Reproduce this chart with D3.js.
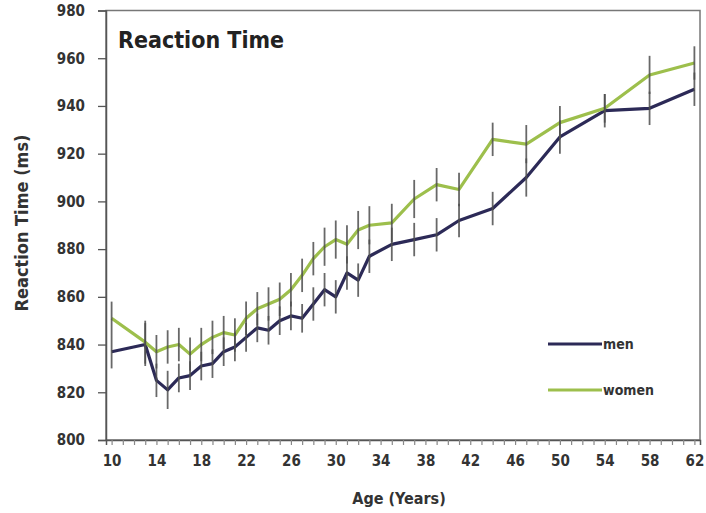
<!DOCTYPE html>
<html>
<head>
<meta charset="utf-8">
<script src="https://cdn.jsdelivr.net/npm/d3@7"></script>
<style>
  html, body { margin: 0; padding: 0; background: #fff; }
  svg { display: block; }
</style>
</head>
<body>
<div id="chart"></div>
<script>
// ages (years) of each measured group
const ages = [10, 13, 14, 15, 16, 17, 18, 19, 20, 21, 22, 23, 24, 25, 26, 27, 28, 29, 30, 31, 32, 33,
              35, 37, 39, 41, 44, 47, 50, 54, 58, 62];
// mean reaction time (ms)
const men = [837, 840, 825, 821, 826, 827, 831, 832, 837, 839, 843, 847, 846, 850, 852, 851, 857, 863, 860, 870, 867, 877,
             882, 884, 886, 892, 897, 910, 927, 938, 939, 947];
const women = [851, 841, 837, 839, 840, 836, 840, 843, 845, 844, 851, 855, 857, 859, 863, 869, 876, 881, 884, 882, 888, 890,
               891, 901, 907, 905, 926, 924, 933, 939, 953, 958];
// half length of error bars (ms)
const menErr = [7, 9, 7, 8, 6, 6, 6, 6, 6, 6, 6, 6, 6, 6, 6, 6, 7, 7, 7, 7, 7, 7,
                7, 7, 7, 7, 7, 8, 7, 7, 7, 7];
const womenErr = [7, 9, 7, 7, 7, 7, 7, 7, 7, 7, 7, 7, 7, 7, 7, 7, 7, 8, 8, 8, 8, 8,
                  8, 8, 7, 7, 7, 8, 7, 6, 8, 7];
const xTickValues = [10, 14, 18, 22, 26, 30, 34, 38, 42, 46, 50, 54, 58, 62];
const yTickValues = [800, 820, 840, 860, 880, 900, 920, 940, 960, 980];
const seriesNames = ['men', 'women'];

(function() {
  const width = 706, height = 513;
  const font = '"DejaVu Sans Condensed", "Liberation Sans Narrow", sans-serif';
  const colors = { men: '#2c2a57', women: '#9dbf4c' };

  const svg = d3.select('#chart').append('svg')
    .attr('width', width).attr('height', height);

  const x = d3.scaleLinear().domain([9.5, 62.5]).range([106, 700]);
  const y = d3.scaleLinear().domain([800, 980]).range([440, 10.5]);

  // frame
  svg.append('rect')
    .attr('x', x.range()[0]).attr('y', y.range()[1])
    .attr('width', x.range()[1] - x.range()[0])
    .attr('height', y.range()[0] - y.range()[1])
    .attr('fill', 'none').attr('stroke', '#777').attr('stroke-width', 1.5);

  // y axis
  const yAxis = svg.append('g')
    .attr('transform', `translate(${x.range()[0]},0)`)
    .call(d3.axisLeft(y).tickValues(yTickValues).tickSize(8).tickPadding(13));
  yAxis.select('.domain').attr('stroke', '#555').attr('stroke-width', 1.5);
  yAxis.selectAll('.tick line').attr('stroke', '#555').attr('stroke-width', 1.3);
  yAxis.selectAll('.tick text')
    .style('font', `bold 15px ${font}`).attr('fill', '#333');

  // x axis: minor tick every year, label every 4
  const xAxis = svg.append('g')
    .attr('transform', `translate(0,${y.range()[0]})`)
    .call(d3.axisBottom(x).tickValues(d3.range(10, 63)).tickSize(5).tickPadding(10)
      .tickFormat(d => xTickValues.includes(d) ? d : ''));
  xAxis.select('.domain').attr('stroke', '#555').attr('stroke-width', 1.5);
  xAxis.selectAll('.tick line').attr('stroke', '#888').attr('stroke-width', 1.2);
  xAxis.selectAll('.tick text')
    .style('font', `bold 15px ${font}`).attr('fill', '#333');

  // axis titles
  svg.append('text')
    .attr('x', 399).attr('y', 504)
    .attr('text-anchor', 'middle')
    .style('font', `bold 16px ${font}`).attr('fill', '#333')
    .text('Age (Years)');
  svg.append('text')
    .attr('transform', 'translate(28,223) rotate(-90)')
    .attr('text-anchor', 'middle')
    .style('font', `bold 18px ${font}`).attr('fill', '#333')
    .text('Reaction Time (ms)');

  // chart title
  svg.append('text')
    .attr('x', 118).attr('y', 48)
    .style('font', `bold 23px ${font}`).attr('fill', '#222')
    .text('Reaction Time');

  const series = [
    { name: 'men', values: men, err: menErr },
    { name: 'women', values: women, err: womenErr }
  ];

  const line = d3.line()
    .x((d, i) => x(ages[i]))
    .y(d => y(d));

  svg.append('g').selectAll('path')
    .data(series)
    .join('path')
    .attr('d', s => line(s.values))
    .attr('fill', 'none')
    .attr('stroke', s => colors[s.name])
    .attr('stroke-width', 3.2)
    .attr('stroke-linejoin', 'round');

  // error bars
  series.forEach(s => {
    svg.append('g').selectAll('line')
      .data(s.values)
      .join('line')
      .attr('x1', (d, i) => x(ages[i])).attr('x2', (d, i) => x(ages[i]))
      .attr('y1', (d, i) => y(d - s.err[i]))
      .attr('y2', (d, i) => y(d + s.err[i]))
      .attr('stroke', '#4d4d4d')
      .attr('stroke-opacity', 0.85)
      .attr('stroke-width', 1.8);
  });

  // legend
  const legend = svg.append('g').selectAll('g')
    .data(seriesNames)
    .join('g')
    .attr('transform', (d, i) => `translate(548,${344 + i * 46})`);
  legend.append('line')
    .attr('x1', 0).attr('x2', 54)
    .attr('stroke', d => colors[d]).attr('stroke-width', 3.2);
  legend.append('text')
    .attr('x', 55).attr('y', 5)
    .style('font', `bold 14px ${font}`).attr('fill', '#333')
    .text(d => d);
})();
</script>
</body>
</html>
